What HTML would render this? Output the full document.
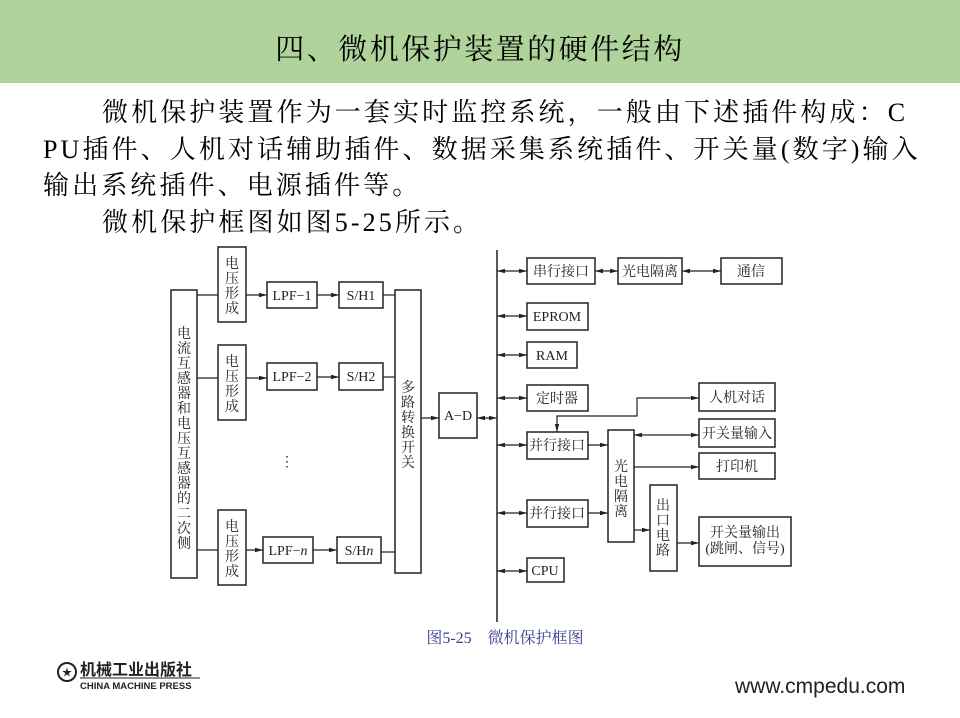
<!DOCTYPE html>
<html><head><meta charset="utf-8"><style>
body{margin:0;width:960px;height:718px;background:#fff;overflow:hidden;position:relative;font-family:"Liberation Serif","Noto Serif CJK SC",serif}
.bar{position:absolute;left:0;top:0;width:960px;height:83px;background:#afd49b}
.title{position:absolute;left:0;width:960px;top:27px;text-align:center;font-size:29px;letter-spacing:2.5px;color:#000}
.p{position:absolute;left:43px;font-size:26px;color:#000;white-space:nowrap;letter-spacing:3.1px}
</style></head><body>
<div class="bar"></div>
<div class="title">四、微机保护装置的硬件结构</div>
<div class="p" style="top:92px;left:102px">微机保护装置作为一套实时监控系统，一般由下述插件构成：C</div>
<div class="p" style="top:129px">PU插件、人机对话辅助插件、数据采集系统插件、开关量(数字)输入</div>
<div class="p" style="top:165px">输出系统插件、电源插件等。</div>
<div class="p" style="top:202px;left:102px">微机保护框图如图5-25所示。</div>
<svg width="960" height="718" style="position:absolute;left:0;top:0" xmlns="http://www.w3.org/2000/svg">
<defs>
<marker id="a" markerWidth="8" markerHeight="6" refX="8" refY="3" orient="auto" markerUnits="userSpaceOnUse"><path d="M0,0.8 L8,3 L0,5.2z" fill="#222"/></marker>
<marker id="b" markerWidth="8" markerHeight="6" refX="0" refY="3" orient="auto" markerUnits="userSpaceOnUse"><path d="M8,0.8 L0,3 L8,5.2z" fill="#222"/></marker>
</defs>
<g fill="none" stroke="#222" stroke-width="1.5">
<rect x="171" y="290" width="26" height="288"/>
<rect x="218" y="247" width="28" height="75"/>
<rect x="218" y="345" width="28" height="75"/>
<rect x="218" y="510" width="28" height="75"/>
<rect x="267" y="282" width="50" height="26"/>
<rect x="267" y="363" width="50" height="27"/>
<rect x="263" y="537" width="50" height="26"/>
<rect x="339" y="282" width="44" height="26"/>
<rect x="339" y="363" width="44" height="27"/>
<rect x="337" y="537" width="44" height="26"/>
<rect x="395" y="290" width="26" height="283"/>
<rect x="439" y="393" width="38" height="45"/>
<rect x="527" y="258" width="68" height="26"/>
<rect x="618" y="258" width="64" height="26"/>
<rect x="721" y="258" width="61" height="26"/>
<rect x="527" y="303" width="61" height="27"/>
<rect x="527" y="342" width="50" height="26"/>
<rect x="527" y="385" width="61" height="26"/>
<rect x="699" y="383" width="76" height="28"/>
<rect x="527" y="432" width="61" height="27"/>
<rect x="608" y="430" width="26" height="112"/>
<rect x="699" y="419" width="76" height="28"/>
<rect x="699" y="453" width="76" height="26"/>
<rect x="527" y="500" width="61" height="27"/>
<rect x="650" y="485" width="27" height="86"/>
<rect x="699" y="517" width="92" height="49"/>
<rect x="527" y="558" width="37" height="24"/>
<line x1="497" y1="250" x2="497" y2="622"/>
</g>
<g stroke="#222" stroke-width="1.2" fill="none">
<path d="M197 295H218"/><path d="M197 378H218"/><path d="M197 550H218"/>
<path d="M246 295H267" marker-end="url(#a)"/>
<path d="M246 378H267" marker-end="url(#a)"/>
<path d="M246 550H263" marker-end="url(#a)"/>
<path d="M317 295H339" marker-end="url(#a)"/>
<path d="M317 377H339" marker-end="url(#a)"/>
<path d="M313 550H337" marker-end="url(#a)"/>
<path d="M383 295H395"/><path d="M383 377H395"/><path d="M381 552H395"/>
<path d="M421 418H439" marker-end="url(#a)"/>
<path d="M477 418H497" marker-end="url(#a)" marker-start="url(#b)"/>
<path d="M497 271H527" marker-end="url(#a)" marker-start="url(#b)"/>
<path d="M497 316H527" marker-end="url(#a)" marker-start="url(#b)"/>
<path d="M497 355H527" marker-end="url(#a)" marker-start="url(#b)"/>
<path d="M497 398H527" marker-end="url(#a)" marker-start="url(#b)"/>
<path d="M497 445H527" marker-end="url(#a)" marker-start="url(#b)"/>
<path d="M497 513H527" marker-end="url(#a)" marker-start="url(#b)"/>
<path d="M497 571H527" marker-end="url(#a)" marker-start="url(#b)"/>
<path d="M595 271H618" marker-end="url(#a)" marker-start="url(#b)"/>
<path d="M682 271H721" marker-end="url(#a)" marker-start="url(#b)"/>
<path d="M557 432V416H637V398H699" marker-end="url(#a)" marker-start="url(#b)"/>
<path d="M634 435H699" marker-end="url(#a)" marker-start="url(#b)"/>
<path d="M634 467H699" marker-end="url(#a)"/>
<path d="M588 445H608" marker-end="url(#a)"/>
<path d="M588 513H608" marker-end="url(#a)"/>
<path d="M634 530H650" marker-end="url(#a)"/>
<path d="M677 543H699" marker-end="url(#a)"/>
</g>
<g fill="#222" font-size="14" font-family="Liberation Serif,Noto Serif CJK SC,serif" text-anchor="middle">
<text x="184" y="338"><tspan x="184" dy="0">电</tspan><tspan x="184" dy="15">流</tspan><tspan x="184" dy="15">互</tspan><tspan x="184" dy="15">感</tspan><tspan x="184" dy="15">器</tspan><tspan x="184" dy="15">和</tspan><tspan x="184" dy="15">电</tspan><tspan x="184" dy="15">压</tspan><tspan x="184" dy="15">互</tspan><tspan x="184" dy="15">感</tspan><tspan x="184" dy="15">器</tspan><tspan x="184" dy="15">的</tspan><tspan x="184" dy="15">二</tspan><tspan x="184" dy="15">次</tspan><tspan x="184" dy="15">侧</tspan></text>
<text x="232" y="268"><tspan x="232">电</tspan><tspan x="232" dy="15">压</tspan><tspan x="232" dy="15">形</tspan><tspan x="232" dy="15">成</tspan></text>
<text x="232" y="366"><tspan x="232">电</tspan><tspan x="232" dy="15">压</tspan><tspan x="232" dy="15">形</tspan><tspan x="232" dy="15">成</tspan></text>
<text x="232" y="531"><tspan x="232">电</tspan><tspan x="232" dy="15">压</tspan><tspan x="232" dy="15">形</tspan><tspan x="232" dy="15">成</tspan></text>
<text x="292" y="300">LPF−1</text><text x="292" y="381">LPF−2</text><text x="288" y="555">LPF−<tspan font-style="italic">n</tspan></text>
<text x="361" y="300">S/H1</text><text x="361" y="381">S/H2</text><text x="359" y="555">S/H<tspan font-style="italic">n</tspan></text>
<text x="287" y="466">⋮</text>
<text x="408" y="392"><tspan x="408">多</tspan><tspan x="408" dy="15">路</tspan><tspan x="408" dy="15">转</tspan><tspan x="408" dy="15">换</tspan><tspan x="408" dy="15">开</tspan><tspan x="408" dy="15">关</tspan></text>
<text x="458" y="420">A−D</text>
<text x="561" y="276">串行接口</text><text x="650" y="276">光电隔离</text><text x="751" y="276">通信</text>
<text x="557" y="321">EPROM</text><text x="552" y="360">RAM</text><text x="557" y="403">定时器</text>
<text x="737" y="402">人机对话</text><text x="557" y="450">并行接口</text>
<text x="737" y="438">开关量输入</text><text x="737" y="471">打印机</text>
<text x="557" y="518">并行接口</text><text x="545" y="575">CPU</text>
<text x="621" y="471"><tspan x="621">光</tspan><tspan x="621" dy="15">电</tspan><tspan x="621" dy="15">隔</tspan><tspan x="621" dy="15">离</tspan></text>
<text x="663" y="510"><tspan x="663">出</tspan><tspan x="663" dy="15">口</tspan><tspan x="663" dy="15">电</tspan><tspan x="663" dy="15">路</tspan></text>
<text x="745" y="537">开关量输出</text><text x="745" y="553">(跳闸、信号)</text>
<text x="505" y="643" fill="#3a3f8c" font-size="16">图5-25　微机保护框图</text>
</g>
<g>
<circle cx="67" cy="672" r="9" fill="none" stroke="#222" stroke-width="2"/>
<text x="67" y="676" font-size="10" text-anchor="middle" fill="#222">★</text>
<text x="80" y="675" font-size="16" font-weight="bold" font-family="Liberation Sans,Noto Sans CJK SC,sans-serif" fill="#222">机械工业出版社</text>
<line x1="80" y1="678" x2="200" y2="678" stroke="#222"/>
<text x="80" y="689" font-size="9.5" font-weight="bold" font-family="Liberation Sans,sans-serif" fill="#222">CHINA MACHINE PRESS</text>
<text x="735" y="693" font-size="21" font-family="Liberation Sans,sans-serif" fill="#222">www.cmpedu.com</text>
</g>
</svg>
</body></html>
